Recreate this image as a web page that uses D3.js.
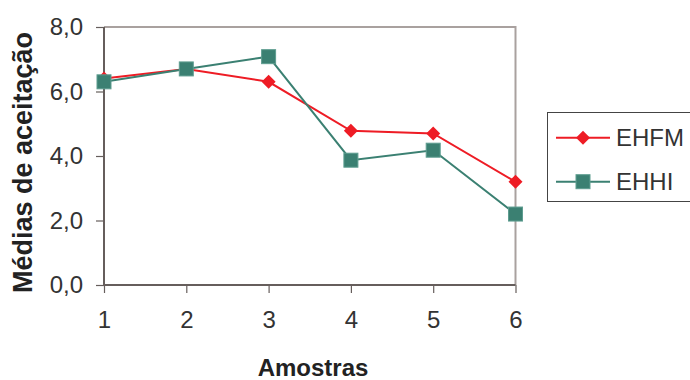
<!DOCTYPE html>
<html><head><meta charset="utf-8">
<script src="https://cdn.jsdelivr.net/npm/d3@7"></script>
<style>body{margin:0;background:#fff}svg{display:block}text{font-family:"Liberation Sans",Arial,sans-serif}</style>
</head><body><svg id="c" width="690" height="380"></svg>
<script>
const categories = [1, 2, 3, 4, 5, 6];
const ehfm = [6.4, 6.7, 6.3, 4.78, 4.7, 3.2];
const ehhi = [6.3, 6.7, 7.08, 3.87, 4.18, 2.2];
const yTicks = [0, 2, 4, 6, 8];
const seriesNames = ["EHFM", "EHHI"];

const svg = d3.select("#c");
const x = d3.scaleLinear().domain([1, 6]).range([104, 515.5]);
const y = d3.scaleLinear().domain([0, 8]).range([285, 27]);
const fmt = d => d.toFixed(1).replace(".", ",");

// plot border (top/right)
svg.append("path").attr("d", `M${x(1)},${y(8)}H${x(6)}V${y(0)}`)
  .attr("fill", "none").attr("stroke", "#a9a19f").attr("stroke-width", 2);

// y axis
const ya = svg.append("g").attr("transform", `translate(${x(1)},0)`)
  .call(d3.axisLeft(y).tickValues(yTicks).tickFormat(fmt).tickSize(8).tickPadding(13));
// x axis
const xa = svg.append("g").attr("transform", `translate(0,${y(0)})`)
  .call(d3.axisBottom(x).tickValues(categories).tickFormat(d3.format("d")).tickSize(8).tickPadding(18));
[ya, xa].forEach(a => {
  a.select(".domain").attr("stroke", "#665e5c").attr("stroke-width", 2);
  a.selectAll(".tick line").attr("stroke", "#665e5c").attr("stroke-width", 1.2);
  a.selectAll(".tick text").attr("fill", "#333").style("font-size", "24px");
});
ya.select(".domain").attr("d", `M0,${y(0)}V${y(8)}`);
xa.select(".domain").attr("d", `M${x(1)},0H${x(6)}`);

// axis titles
svg.append("text").attr("x", 313).attr("y", 376).attr("text-anchor", "middle")
  .style("font-size", "24px").style("font-weight", "bold").attr("fill", "#222").text("Amostras");
svg.append("text").attr("transform", "translate(32,162.5) rotate(-90)").attr("text-anchor", "middle")
  .style("font-size", "27px").style("font-weight", "bold").attr("fill", "#222").text("Médias de aceitação");

const red = "#ee1c25", teal = "#3b8072";
const line = d3.line().x((d, i) => x(categories[i])).y(d => y(d));

function drawDiamond(g, cx, cy) {
  g.append("path").attr("d", `M${cx},${cy-7}L${cx+7},${cy}L${cx},${cy+7}L${cx-7},${cy}Z`).attr("fill", red);
}
function drawSquare(g, cx, cy) {
  g.append("rect").attr("x", cx-7).attr("y", cy-7).attr("width", 14).attr("height", 14)
    .attr("fill", teal).attr("stroke", "#5e9d90").attr("stroke-width", 1);
}

const gR = svg.append("g");
gR.append("path").datum(ehfm).attr("d", line).attr("fill", "none").attr("stroke", red).attr("stroke-width", 2);
ehfm.forEach((v, i) => drawDiamond(gR, x(categories[i]), y(v)));
const gT = svg.append("g");
gT.append("path").datum(ehhi).attr("d", line).attr("fill", "none").attr("stroke", teal).attr("stroke-width", 2);
ehhi.forEach((v, i) => drawSquare(gT, x(categories[i]), y(v)));

// legend
const lg = svg.append("g");
lg.append("rect").attr("x", 547.5).attr("y", 112.5).attr("width", 160).attr("height", 89)
  .attr("fill", "#fff").attr("stroke", "#444").attr("stroke-width", 1);
const rows = [137.7, 181.7];
lg.append("line").attr("x1", 556).attr("x2", 610).attr("y1", rows[0]).attr("y2", rows[0]).attr("stroke", red).attr("stroke-width", 2);
drawDiamond(lg, 583, rows[0]);
lg.append("line").attr("x1", 556).attr("x2", 610).attr("y1", rows[1]).attr("y2", rows[1]).attr("stroke", teal).attr("stroke-width", 2);
drawSquare(lg, 583, rows[1]);
seriesNames.forEach((n, i) => lg.append("text").attr("x", 616).attr("y", rows[i]).attr("dy", "0.36em")
  .style("font-size", "24px").attr("fill", "#333").text(n));
</script></body></html>
